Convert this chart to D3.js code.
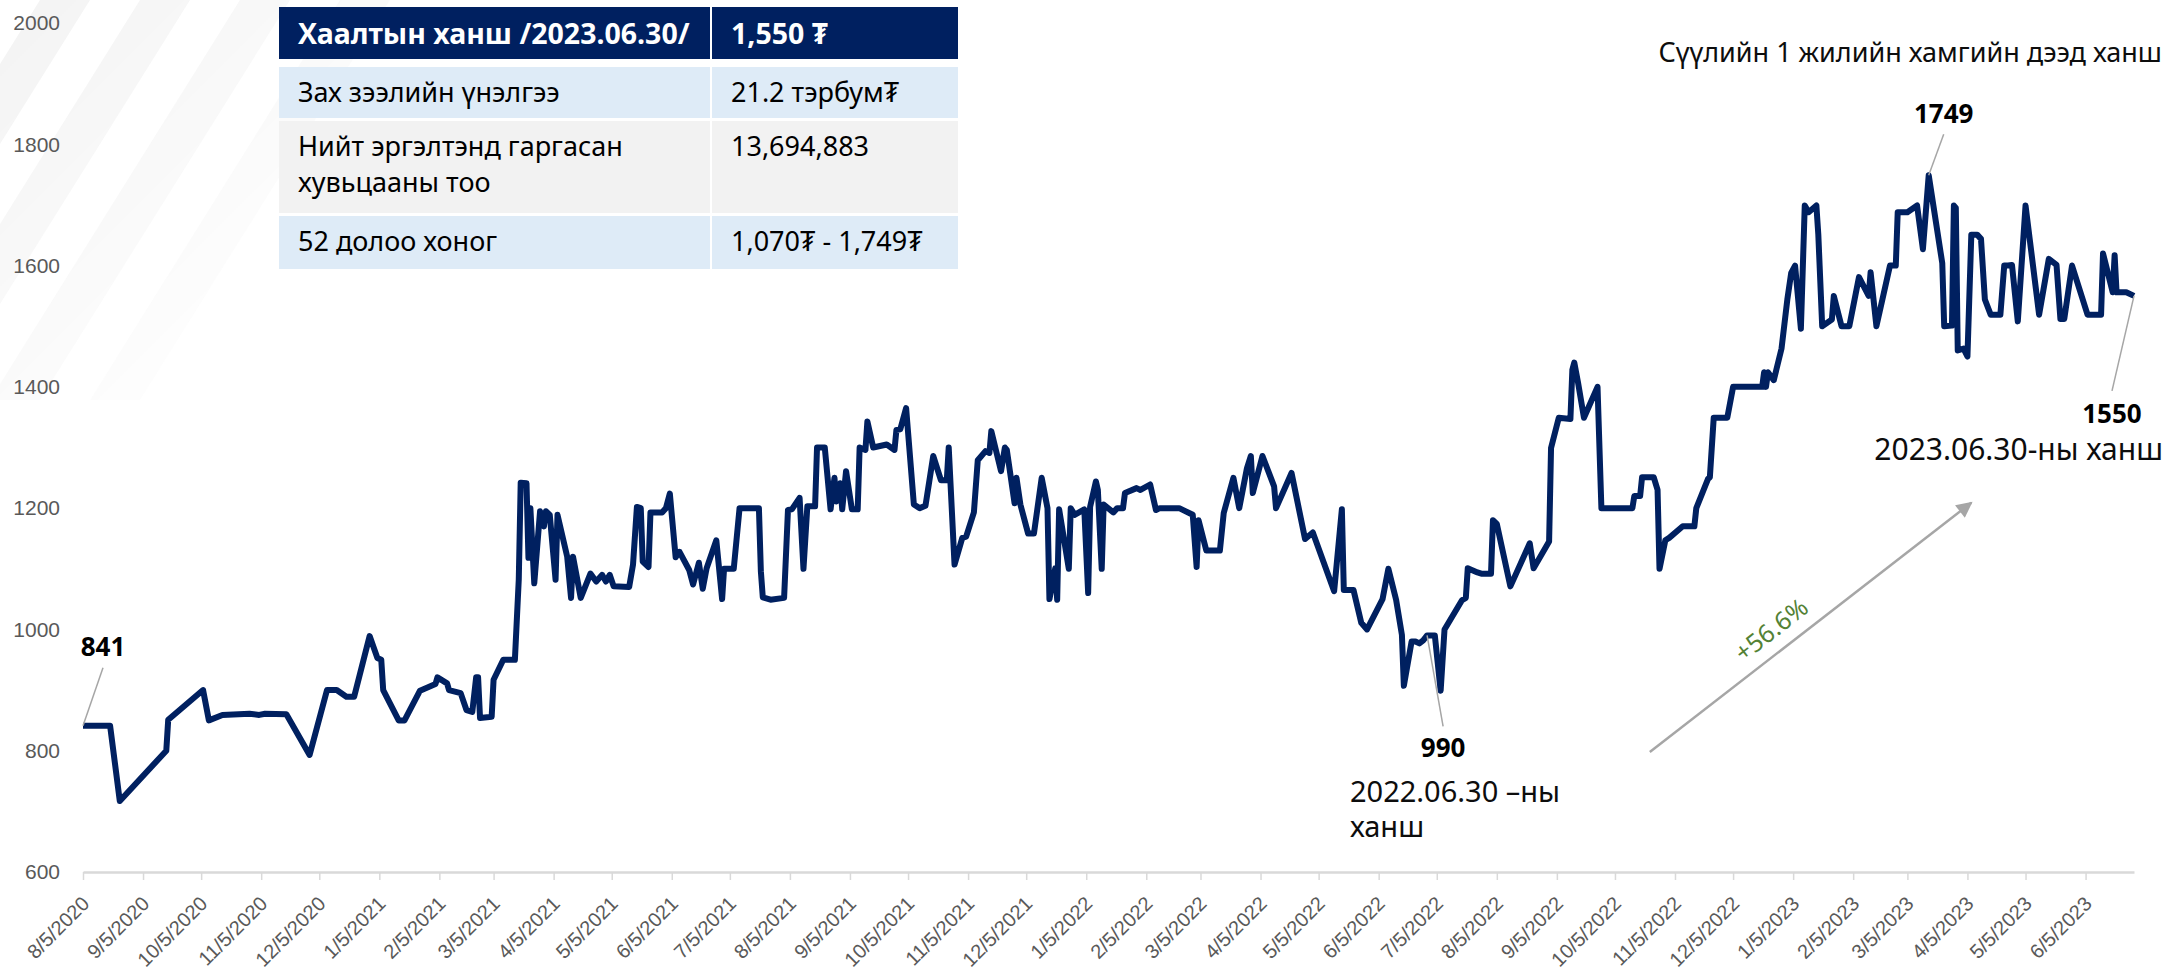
<!DOCTYPE html>
<html>
<head>
<meta charset="utf-8">
<script src="https://cdn.jsdelivr.net/npm/d3@7"></script>
<style>
  body { margin: 0; background: #fff; }
  svg { display: block; font-family: "Noto Sans", "Open Sans", sans-serif; }
</style>
</head>
<body>
<div id="chart"></div>
<script>
// closing prices
const dates = [
  "2020-08-05","2020-08-19","2020-08-24","2020-09-17","2020-09-18","2020-10-06","2020-10-09","2020-10-16","2020-10-30","2020-11-04",
  "2020-11-07","2020-11-18","2020-11-30","2020-12-09","2020-12-14","2020-12-19","2020-12-23","2020-12-31","2021-01-04","2021-01-06",
  "2021-01-07","2021-01-15","2021-01-18","2021-01-26","2021-02-03","2021-02-04","2021-02-09","2021-02-10","2021-02-16","2021-02-19",
  "2021-02-22","2021-02-24","2021-02-25","2021-02-26","2021-03-04","2021-03-05","2021-03-10","2021-03-16","2021-03-18","2021-03-19",
  "2021-03-22","2021-03-23","2021-03-24","2021-03-26","2021-03-29","2021-03-31","2021-04-01","2021-04-03","2021-04-06","2021-04-07",
  "2021-04-12","2021-04-14","2021-04-15","2021-04-19","2021-04-24","2021-04-27","2021-04-30","2021-05-02","2021-05-04","2021-05-06",
  "2021-05-14","2021-05-16","2021-05-18","2021-05-20","2021-05-21","2021-05-24","2021-05-25","2021-05-31","2021-06-02","2021-06-04",
  "2021-06-07","2021-06-09","2021-06-14","2021-06-16","2021-06-19","2021-06-21","2021-06-23","2021-06-28","2021-07-01","2021-07-02",
  "2021-07-07","2021-07-10","2021-07-20","2021-07-21","2021-07-22","2021-07-26","2021-08-02","2021-08-04","2021-08-06","2021-08-10",
  "2021-08-12","2021-08-14","2021-08-18","2021-08-19","2021-08-23","2021-08-26","2021-08-28","2021-08-29","2021-08-31","2021-09-01",
  "2021-09-03","2021-09-06","2021-09-09","2021-09-10","2021-09-13","2021-09-14","2021-09-17","2021-09-24","2021-09-28","2021-09-29",
  "2021-10-01","2021-10-04","2021-10-08","2021-10-11","2021-10-14","2021-10-18","2021-10-22","2021-10-25","2021-10-26","2021-10-29",
  "2021-11-02","2021-11-04","2021-11-08","2021-11-10","2021-11-14","2021-11-16","2021-11-17","2021-11-22","2021-11-24","2021-11-25",
  "2021-11-29","2021-11-30","2021-12-02","2021-12-06","2021-12-09","2021-12-13","2021-12-16","2021-12-17","2021-12-20","2021-12-21",
  "2021-12-22","2021-12-27","2021-12-28","2021-12-30","2022-01-04","2022-01-06","2022-01-07","2022-01-10","2022-01-11","2022-01-13",
  "2022-01-14","2022-01-19","2022-01-21","2022-01-24","2022-01-25","2022-01-31","2022-02-02","2022-02-07","2022-02-10","2022-02-12",
  "2022-02-22","2022-03-01","2022-03-03","2022-03-04","2022-03-08","2022-03-15","2022-03-17","2022-03-22","2022-03-25","2022-03-29",
  "2022-03-31","2022-04-01","2022-04-06","2022-04-12","2022-04-13","2022-04-21","2022-04-28","2022-05-02","2022-05-13","2022-05-17",
  "2022-05-18","2022-05-23","2022-05-27","2022-05-30","2022-06-07","2022-06-10","2022-06-14","2022-06-17","2022-06-18","2022-06-22",
  "2022-06-24","2022-06-26","2022-06-28","2022-06-30","2022-07-04","2022-07-07","2022-07-09","2022-07-18","2022-07-20","2022-07-21",
  "2022-07-26","2022-07-28","2022-08-02","2022-08-03","2022-08-05","2022-08-12","2022-08-22","2022-08-24","2022-09-01","2022-09-02",
  "2022-09-06","2022-09-12","2022-09-13","2022-09-14","2022-09-16","2022-09-19","2022-09-26","2022-09-28","2022-10-14","2022-10-15",
  "2022-10-18","2022-10-19","2022-10-25","2022-10-27","2022-10-28","2022-10-31","2022-11-02","2022-11-09","2022-11-15","2022-11-16",
  "2022-11-22","2022-11-23","2022-11-25","2022-12-02","2022-12-05","2022-12-20","2022-12-21","2022-12-22","2022-12-23","2022-12-26",
  "2022-12-30","2023-01-02","2023-01-04","2023-01-06","2023-01-09","2023-01-11","2023-01-13","2023-01-17","2023-01-18","2023-01-20",
  "2023-01-25","2023-01-26","2023-01-30","2023-02-03","2023-02-08","2023-02-13","2023-02-14","2023-02-17","2023-02-24","2023-02-27",
  "2023-02-28","2023-03-05","2023-03-10","2023-03-13","2023-03-16","2023-03-23","2023-03-24","2023-03-28","2023-03-29","2023-03-30",
  "2023-03-31","2023-04-03","2023-04-05","2023-04-07","2023-04-10","2023-04-12","2023-04-14","2023-04-17","2023-04-22","2023-04-24",
  "2023-04-26","2023-04-28","2023-05-01","2023-05-05","2023-05-12","2023-05-17","2023-05-21","2023-05-23","2023-05-25","2023-05-29",
  "2023-06-06","2023-06-13","2023-06-14","2023-06-19","2023-06-20","2023-06-21","2023-06-26","2023-06-30"
];
const prices = [
  841,841,717,800,851,900,850,859,861,859,
  861,860,793,900,900,889,889,989,953,950,
  900,850,850,899,910,921,911,900,895,867,
  864,921,921,854,856,917,950,950,1082,1242,
  1241,1118,1200,1076,1195,1170,1195,1189,1082,1189,
  1120,1052,1120,1052,1092,1079,1090,1079,1090,1071,
  1070,1107,1202,1200,1112,1103,1193,1193,1200,1224,
  1119,1128,1098,1074,1110,1067,1101,1147,1050,1100,
  1100,1200,1200,1096,1053,1049,1052,1197,1198,1217,
  1100,1203,1203,1300,1300,1198,1250,1211,1241,1198,
  1261,1198,1198,1300,1296,1343,1300,1305,1296,1329,
  1330,1365,1206,1200,1204,1286,1246,1246,1300,1107,
  1151,1153,1193,1279,1294,1291,1327,1261,1300,1296,
  1208,1250,1206,1158,1158,1250,1200,1050,1101,1049,
  1198,1100,1200,1189,1198,1060,1202,1244,1230,1100,
  1206,1193,1200,1200,1225,1233,1230,1239,1197,1200,
  1200,1189,1103,1180,1130,1130,1192,1250,1200,1266,
  1286,1225,1286,1236,1200,1258,1149,1160,1063,1198,
  1065,1065,1011,1000,1050,1100,1049,991,907,980,
  980,977,982,990,990,899,1000,1048,1052,1101,
  1094,1092,1092,1180,1174,1071,1142,1101,1145,1299,
  1349,1347,1428,1440,1406,1349,1400,1200,1200,1220,
  1220,1251,1251,1230,1100,1147,1151,1170,1170,1200,
  1248,1251,1349,1349,1400,1400,1424,1400,1424,1411,
  1463,1544,1588,1600,1496,1699,1688,1699,1651,1500,
  1511,1550,1500,1500,1581,1550,1589,1500,1600,1600,
  1688,1688,1699,1627,1749,1604,1500,1501,1699,1695,
  1460,1463,1450,1651,1651,1644,1544,1519,1519,1600,
  1600,1601,1508,1699,1519,1611,1601,1512,1512,1600,
  1519,1519,1620,1556,1617,1556,1556,1550
];

const yTicks = [600, 800, 1000, 1200, 1400, 1600, 1800, 2000];
const xTickLabels = [
  "8/5/2020","9/5/2020","10/5/2020","11/5/2020","12/5/2020",
  "1/5/2021","2/5/2021","3/5/2021","4/5/2021","5/5/2021","6/5/2021","7/5/2021","8/5/2021","9/5/2021","10/5/2021","11/5/2021","12/5/2021",
  "1/5/2022","2/5/2022","3/5/2022","4/5/2022","5/5/2022","6/5/2022","7/5/2022","8/5/2022","9/5/2022","10/5/2022","11/5/2022","12/5/2022",
  "1/5/2023","2/5/2023","3/5/2023","4/5/2023","5/5/2023","6/5/2023"
];

const tableLabels = [["Хаалтын ханш /2023.06.30/"], ["Зах зээлийн үнэлгээ"], ["Нийт эргэлтэнд гаргасан", "хувьцааны тоо"], ["52 долоо хоног"]];
const tableValues = ["1,550 ₮", "21.2 тэрбум₮", "13,694,883", "1,070₮ - 1,749₮"];

const callouts = [
  { date: "2020-08-05", value: 841, dx: 20, dy: -58, ly: -70 },
  { date: "2022-06-30", value: 990, dx: 16, dy: 91, ly: 122 },
  { date: "2023-03-16", value: 1749, dx: 15, dy: -41, ly: -52 },
  { date: "2023-06-30", value: 1550, dx: -22, dy: 95, ly: 127 }
];
const growthArrow = { from: ["2022-10-23", 798], to: ["2023-04-07", 1209], text: "+56.6%" };

const W = 2164, H = 972;
const margin = { top: 23, right: 30, bottom: 100, left: 83 };
const navy = "#002060";
const parseDate = d3.timeParse("%Y-%m-%d");
const parseTick = d3.timeParse("%m/%d/%Y");

const data = dates.map((d, i) => ({ date: parseDate(d), value: prices[i] }));

const svg = d3.select("#chart")
  .append("svg")
  .attr("width", W)
  .attr("height", H)
  .attr("viewBox", [0, 0, W, H]);

// faint diagonal stripes in the top-left corner
const defs = svg.append("defs");
const fade = defs.append("linearGradient").attr("id", "fade")
  .attr("x1", 0).attr("y1", 0).attr("x2", 1).attr("y2", 1);
fade.append("stop").attr("offset", "0%").attr("stop-color", "#fff").attr("stop-opacity", 1);
fade.append("stop").attr("offset", "75%").attr("stop-color", "#fff").attr("stop-opacity", 0);
defs.append("mask").attr("id", "stripeMask")
  .append("rect").attr("width", 420).attr("height", 420).attr("fill", "url(#fade)");

svg.append("g")
  .attr("mask", "url(#stripeMask)")
  .attr("fill", "#f3f3f3")
  .selectAll("path")
  .data([40, 140, 240, 340])
  .join("path")
  .attr("d", o => `M${o},0L${o + 50},0L${o - 200},400L${o - 250},400Z`);

const x = d3.scaleTime()
  .domain(d3.extent(data, d => d.date))
  .range([margin.left, W - margin.right]);

const y = d3.scaleLinear()
  .domain([600, 2000])
  .range([H - margin.bottom, margin.top]);

const xAxis = g => g
  .attr("transform", `translate(0,${H - margin.bottom})`)
  .call(d3.axisBottom(x)
    .tickValues(xTickLabels.map(parseTick))
    .tickFormat((d, i) => xTickLabels[i])
    .tickSize(8)
    .tickSizeOuter(0))
  .call(g => g.select(".domain").attr("stroke", "#d9d9d9").attr("stroke-width", 2.5))
  .call(g => g.selectAll(".tick line").attr("stroke", "#d9d9d9").attr("stroke-width", 1.5))
  .call(g => g.selectAll(".tick text")
    .attr("x", 0).attr("y", 0).attr("dy", 0)
    .attr("fill", "#595959")
    .attr("font-size", 20)
    .attr("text-anchor", "end")
    .attr("transform", "translate(7,33) rotate(-45)"));

const yAxis = g => g
  .attr("transform", `translate(${margin.left},0)`)
  .call(d3.axisLeft(y).tickValues(yTicks).tickFormat(d3.format("d")).tickSize(0).tickPadding(23))
  .call(g => g.select(".domain").remove())
  .call(g => g.selectAll(".tick text").attr("fill", "#595959").attr("font-size", 21));

svg.append("g").attr("font-family", null).call(xAxis);
svg.append("g").attr("font-family", null).call(yAxis);

// price line
const line = d3.line()
  .x(d => x(d.date))
  .y(d => y(d.value));

svg.append("path")
  .datum(data)
  .attr("fill", "none")
  .attr("stroke", navy)
  .attr("stroke-width", 6)
  .attr("stroke-linejoin", "round")
  .attr("d", line);

// callouts with leader lines
const cg = svg.append("g");
callouts.forEach(c => {
  const px = x(parseDate(c.date)), py = y(c.value);
  cg.append("line")
    .attr("x1", px).attr("y1", py)
    .attr("x2", px + c.dx).attr("y2", py + c.dy)
    .attr("stroke", "#a6a6a6").attr("stroke-width", 1.5);
  cg.append("text")
    .attr("x", px + c.dx).attr("y", py + c.ly)
    .attr("text-anchor", "middle")
    .attr("font-size", 26).attr("font-weight", "bold")
    .attr("fill", "#000")
    .text(c.value);
});

const note = (tx, ty, anchor, size, str) => svg.append("text")
  .attr("x", tx).attr("y", ty)
  .attr("text-anchor", anchor)
  .attr("font-size", size)
  .attr("fill", "#0d0d0d")
  .text(str);

note(W - 2, 62, "end", 27, "Сүүлийн 1 жилийн хамгийн дээд ханш");
note(W - 1, 460, "end", 30, "2023.06.30-ны ханш");
note(1350, 802, "start", 29, "2022.06.30 –ны");
note(1350, 837, "start", 29, "ханш");

// growth arrow
defs.append("marker")
  .attr("id", "arrowHead")
  .attr("viewBox", "0 0 10 10")
  .attr("refX", 9).attr("refY", 5)
  .attr("markerUnits", "userSpaceOnUse")
  .attr("markerWidth", 19).attr("markerHeight", 16)
  .attr("orient", "auto")
  .append("path").attr("d", "M0,0L10,5L0,10Z").attr("fill", "#a6a6a6");

const a0 = [x(parseDate(growthArrow.from[0])), y(growthArrow.from[1])];
const a1 = [x(parseDate(growthArrow.to[0])), y(growthArrow.to[1])];
svg.append("line")
  .attr("x1", a0[0]).attr("y1", a0[1])
  .attr("x2", a1[0]).attr("y2", a1[1])
  .attr("stroke", "#a6a6a6").attr("stroke-width", 2.5)
  .attr("marker-end", "url(#arrowHead)");

const len = Math.hypot(a1[0] - a0[0], a1[1] - a0[1]);
const ux = (a1[0] - a0[0]) / len, uy = (a1[1] - a0[1]) / len;
const angle = Math.atan2(uy, ux) * 180 / Math.PI;
const tcx = a0[0] + ux * len * 0.42 + uy * 22;
const tcy = a0[1] + uy * len * 0.42 - ux * 22;
svg.append("text")
  .attr("transform", `translate(${tcx},${tcy}) rotate(${angle})`)
  .attr("text-anchor", "middle")
  .attr("dy", "0.35em")
  .attr("font-size", 25)
  .attr("fill", "#548235")
  .text(growthArrow.text);

// summary table
const rowTop = [7, 67, 121, 216];
const rowH = [52, 51, 92, 53];
const rowFill = [navy, "#deebf7", "#f2f2f2", "#deebf7"];
const colX = [279, 712], colW = [431, 246];

const table = svg.append("g");
tableLabels.forEach((lines, i) => {
  const isHead = i === 0;
  const size = isHead ? 28.5 : 27;
  [0, 1].forEach(c => {
    table.append("rect")
      .attr("x", colX[c]).attr("y", rowTop[i])
      .attr("width", colW[c]).attr("height", rowH[i])
      .attr("fill", rowFill[i]);
  });
  const base = isHead ? 44 : rowTop[i] + 35;
  lines.forEach((t, k) => {
    table.append("text")
      .attr("x", colX[0] + 19).attr("y", base + k * 36)
      .attr("font-size", size)
      .attr("font-weight", isHead ? "bold" : null)
      .attr("fill", isHead ? "#fff" : "#000")
      .text(t);
  });
  table.append("text")
    .attr("x", colX[1] + 19).attr("y", base)
    .attr("font-size", size)
    .attr("font-weight", isHead ? "bold" : null)
    .attr("fill", isHead ? "#fff" : "#000")
    .text(tableValues[i]);
});
</script>
</body>
</html>
